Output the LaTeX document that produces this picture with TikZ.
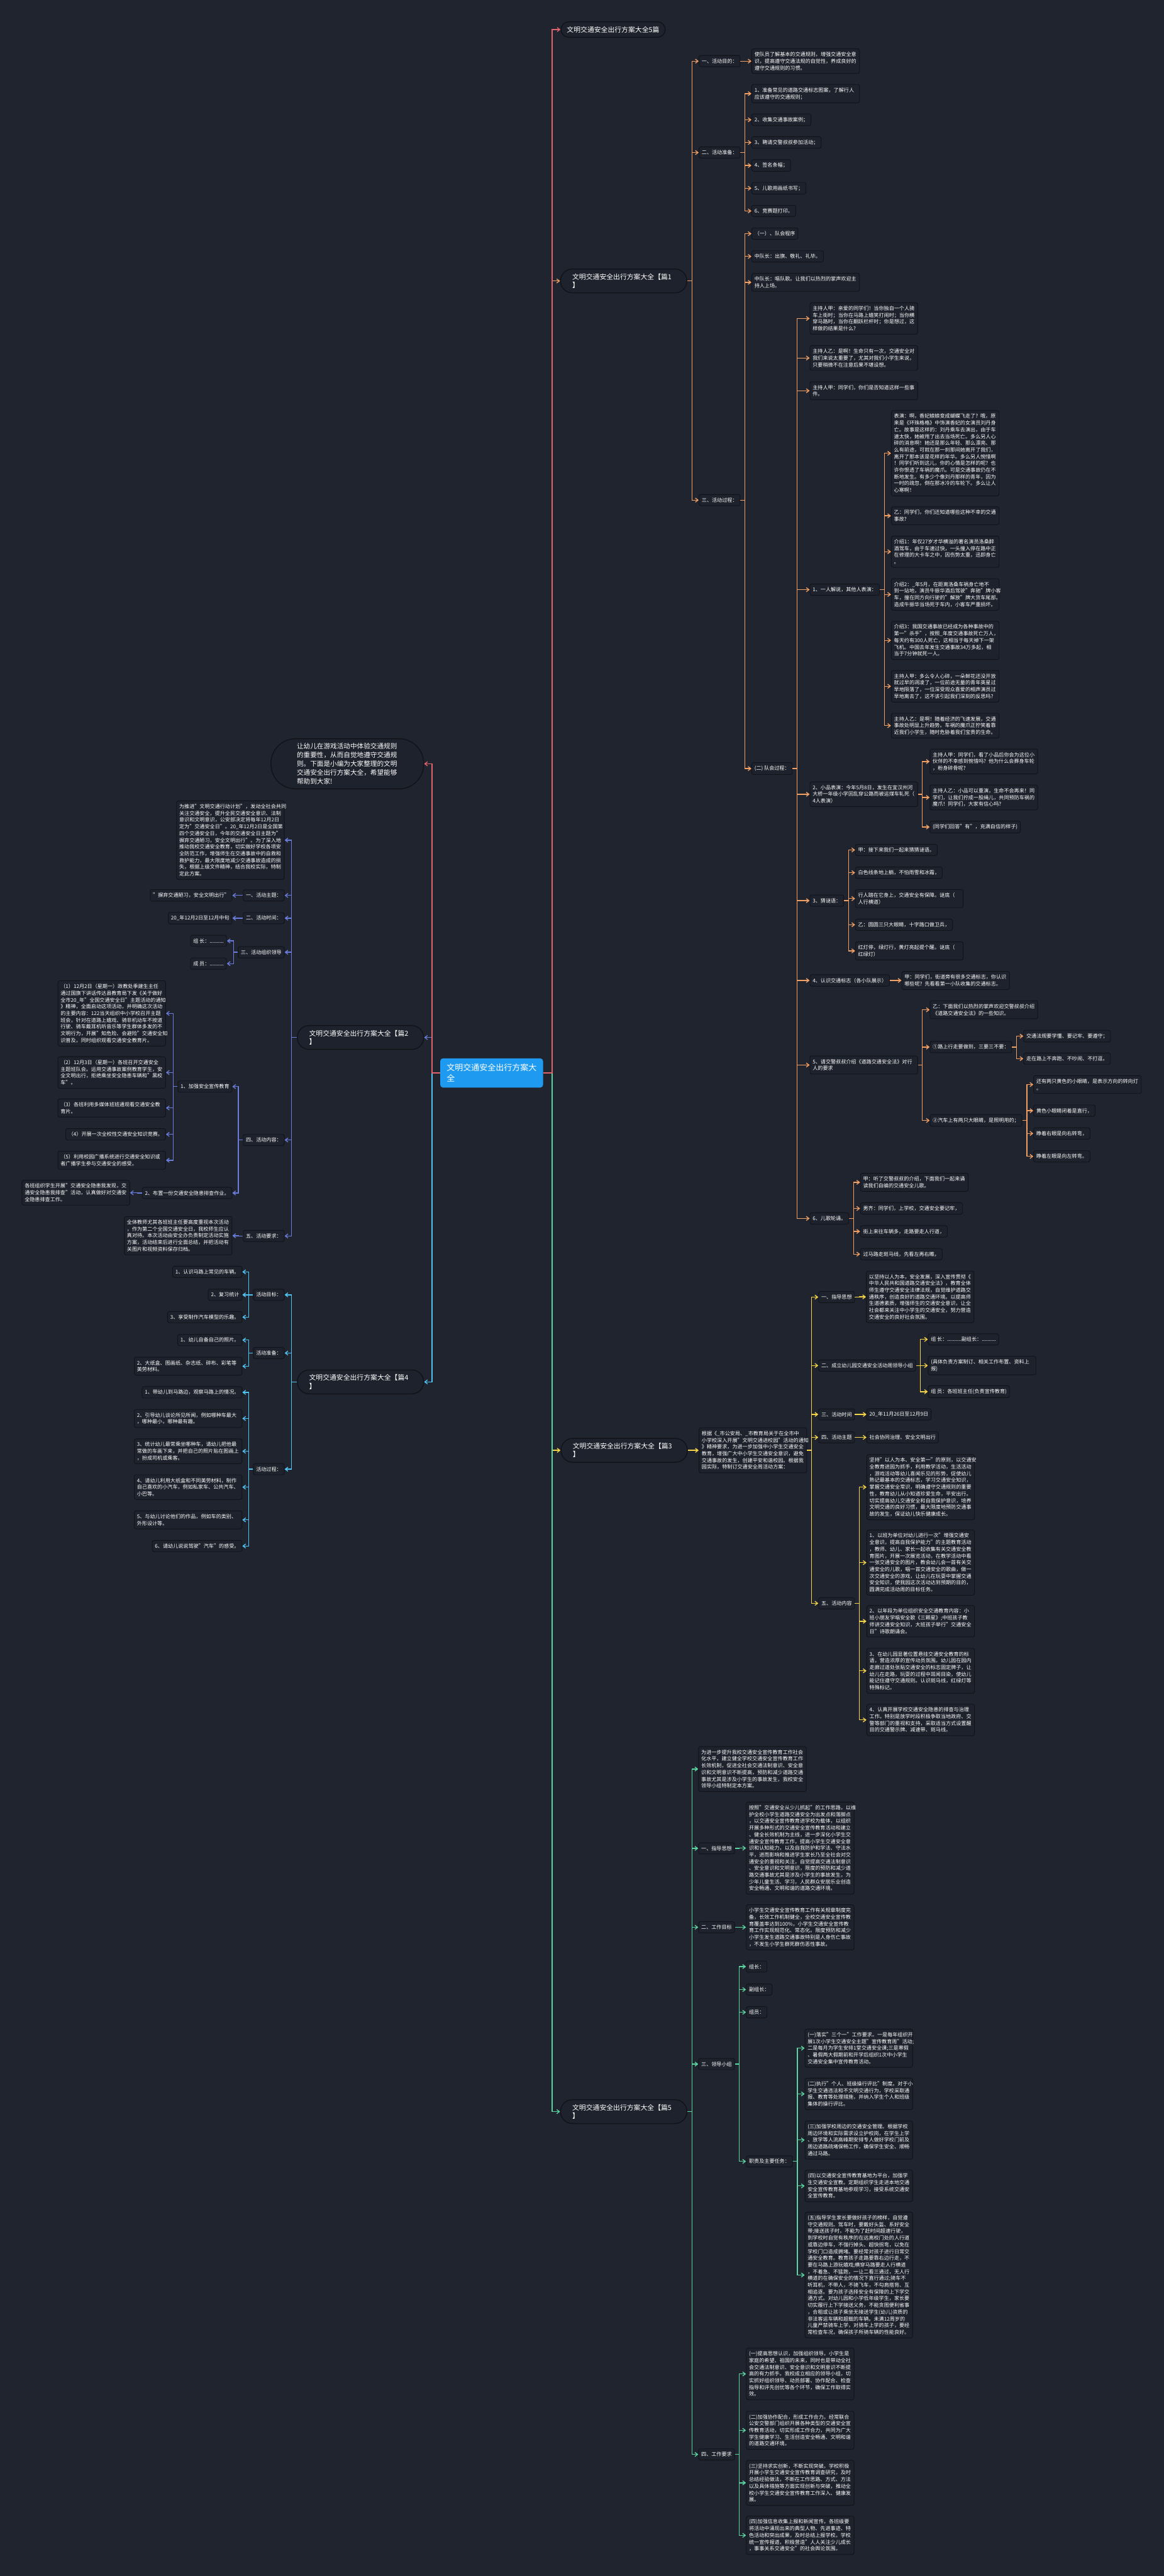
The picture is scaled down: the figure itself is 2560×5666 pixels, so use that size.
\documentclass[tikz,border=0pt]{standalone}
\usepackage{fontspec}
\setmainfont{Noto Sans CJK SC}
\usetikzlibrary{arrows.meta}
\setlength{\parindent}{0pt}
\definecolor{bg}{HTML}{20242F}
\definecolor{boxfill}{HTML}{1E222C}
\definecolor{boxline}{HTML}{111318}
\definecolor{cred}{HTML}{E4646E}
\definecolor{corange}{HTML}{F2A064}
\definecolor{cyellow}{HTML}{F5D547}
\definecolor{cblue}{HTML}{6A7DDC}
\definecolor{ccyan}{HTML}{50C4F2}
\definecolor{cgreen}{HTML}{5BD6A0}
\definecolor{cmain}{HTML}{1E9BF0}
\newcommand{\fs}{\fontsize{11.2pt}{14.8pt}\selectfont}
\newcommand{\fl}{\fontsize{15pt}{18.5pt}\selectfont}
\newcommand{\fm}{\fontsize{14.7pt}{19.4pt}\selectfont}
\newcommand{\fc}{\fontsize{18pt}{24pt}\selectfont}
\tikzset{
 nbox/.style={draw=boxline, fill=boxfill, rounded corners=4pt, line width=1.3pt, text=white, font=\fs, inner xsep=6pt, inner ysep=7.2pt, align=left},
 npara/.style={nbox, text width=225pt},
 npill/.style={draw=boxline, fill=boxfill, rounded corners=26pt, line width=2pt, text=white, font=\fl, inner xsep=26pt, inner ysep=10pt, align=left, text width=226pt},
 ttlpill/.style={draw=boxline, fill=boxfill, rounded corners=17pt, line width=2pt, text=white, font=\fl, inner xsep=13pt, inner ysep=10pt},
 sumpill/.style={draw=boxline, fill=boxfill, rounded corners=54pt, line width=2pt, text=white, font=\fm, inner xsep=57pt, inner ysep=9.5pt, align=left, text width=222pt},
 conn/.style={draw=#1, line width=1.8pt, -{Straight Barb[length=6pt,width=9pt]}},
}
\newcommand{\Rn}[4][nbox]{\node[#1,anchor=west] (#2) at #3 {#4};}
\newcommand{\Ln}[4][nbox]{\node[#1,anchor=east] (#2) at #3 {#4};}
\newcommand{\Rk}[4][10]{\draw[conn=#2] (#3.east) -- ++(#1,0) |- (#4.west);}
\newcommand{\Lk}[4][10]{\draw[conn=#2] (#3.west) -- ++(-#1,0) |- (#4.east);}
\begin{document}
\begin{tikzpicture}[x=1pt,y=-1pt]
\fill[bg] (0,0) rectangle (2560,5666);
\useasboundingbox (0,0) rectangle (2560,5666);
% center
\node[fill=cmain, rounded corners=6pt, text=white, font=\fc, align=left, inner xsep=14pt, inner ysep=12pt] (C) at (1081.5,2360) {文明交通安全出行方案大\\全};
% top-level right
\Rn[ttlpill]{T0}{(1233,65)}{文明交通安全出行方案大全5篇}
\Rn[npill]{P1}{(1232,618)}{文明交通安全出行方案大全【篇1\\】}
\Rn[npill]{P3}{(1233,3190)}{文明交通安全出行方案大全【篇3\\】}
\Rn[npill]{P5}{(1232,4644.5)}{文明交通安全出行方案大全【篇5\\】}
% top-level left
\Ln[sumpill]{S}{(933,1680)}{让幼儿在游戏活动中体验交通规则\\的重要性，从而自觉地遵守交通规\\则。下面是小编为大家整理的文明\\交通安全出行方案大全，希望能够\\帮助到大家!}
\Ln[npill]{P2}{(933,2282)}{文明交通安全出行方案大全【篇2\\】}
\Ln[npill]{P4}{(933,3039.5)}{文明交通安全出行方案大全【篇4\\】}
% ===== 篇1 =====
\Rn{A1}{(1537,134.5)}{一、活动目的：}
\Rn[npara]{A1c}{(1653,134.5)}{使队员了解基本的交通规则，增强交通安全意\\识，提高遵守交通法规的自觉性，养成良好的\\遵守交通规则的习惯。}
\Rn{A2}{(1537,335.5)}{二、活动准备：}
\Rn[npara]{A2a}{(1653,206)}{1、准备常见的道路交通标志图案，了解行人\\应该遵守的交通规则；}
\Rn{A2b}{(1653,263.5)}{2、收集交通事故案例；}
\Rn{A2c}{(1653,313.5)}{3、聘请交警叔叔参加活动；}
\Rn{A2d}{(1653,364)}{4、签名条幅；}
\Rn{A2e}{(1653,414)}{5、儿歌用画纸书写；}
\Rn{A2f}{(1653,464)}{6、竞赛题打印。}
\Rn{A3}{(1537,1100)}{三、活动过程：}
\Rn{B1}{(1653,514)}{（一）、队会程序}
\Rn{B2}{(1653,564)}{中队长：出旗、敬礼、礼毕。}
\Rn[npara]{B3}{(1653,621)}{中队长：唱队歌。让我们以热烈的掌声欢迎主\\持人上场。}
\Rn{B4}{(1653,1690.5)}{(二) 队会过程：}
\Rn[npara]{C1}{(1781,700.5)}{主持人甲：亲爱的同学们！当你独自一个人骑\\车上街时；当你在马路上嬉笑打闹时；当你横\\穿马路时，当你在翻跃栏杆时；你是想过，这\\样做的结果是什么?}
\Rn[npara]{C2}{(1781,787.5)}{主持人乙：是啊！生命只有一次，交通安全对\\我们来说太重要了，尤其对我们小学生来说，\\只要稍微不在注意后果不堪设想。}
\Rn[npara]{C3}{(1781,859.5)}{主持人甲：同学们，你们是否知道这样一些事\\件。}
\Rn{C4}{(1781,1297)}{1、一人解说，其他人表演：}
\Rn[npara]{D1}{(1960,997)}{表演：啊，香妃娘娘变成蝴蝶飞走了? 哦，原\\来是《环珠格格》中饰演香妃的女演员刘丹身\\亡。故事是这样的：刘丹乘车去演出，由于车\\速太快，她被甩了出去当场死亡。多么另人心\\碎的消息啊！她还是那么年轻、那么漂亮、那\\么有前途，可就在那一刹那间她离开了我们，\\离开了那本该是花样的年华。多么另人惋惜啊\\！同学们听到这儿，你的心情是怎样的呢? 也\\许你恨透了车祸的魔爪。可是交通事故仍在不\\断地发生。有多少个像刘丹那样的青年，因为\\一时的疏忽，倒在那冰冷的车轮下。多么让人\\心寒啊！}
\Rn[npara]{D2}{(1960,1134.5)}{乙：同学们，你们还知道哪些这种不幸的交通\\事故?}
\Rn[npara]{D3}{(1960,1213.5)}{介绍1：年仅27岁才华横溢的著名演员洛桑醉\\酒驾车，由于车速过快，一头撞入停在路中正\\在修理的大卡车之中，因伤势太重，迅即身亡\\。}
\Rn[npara]{D4}{(1960,1307.5)}{介绍2：\_年5月，在距离洛桑车祸身亡地不\\到一站地，演员牛振华酒后驾驶"奔驰"牌小客\\车，撞在同方向行驶的"解放"牌大货车尾部。\\造成牛振华当场死于车内，小客车严重损坏。}
\Rn[npara]{D5}{(1960,1408.5)}{介绍3：我国交通事故已经成为各种事故中的\\第一"杀手"，按照\_年度交通事故死亡万人，\\每天约有300人死亡，这相当于每天掉下一架\\飞机。中国去年发生交通事故34万多起，相\\当于7分钟就死一人。}
\Rn[npara]{D6}{(1960,1509.5)}{主持人甲：多么令人心碎，一朵鲜花还没开放\\就过早的凋凌了，一位前途无量的青年英星过\\早地陨落了，一位深受观众喜爱的相声演员过\\早地离去了，这不该引起我们深刻的反思吗?}
\Rn[npara]{D7}{(1960,1596)}{主持人乙：是啊！随着经济的飞速发展，交通\\事故处明显上升趋势。车祸的魔爪正狞笑着靠\\近我们小学生，随时危胁着我们宝贵的生命。}
\Rn[npara]{C5}{(1781,1747)}{2、小品表演：今年5月8日，发生在宜汉州河\\大桥一年级小学因乱穿公路而被运煤车轧死（\\4人表演）}
\Rn[npara]{E1}{(2045,1675)}{主持人甲：同学们，看了小品后你会为这位小\\伙伴的不幸感到惋惜吗? 他为什么会葬身车轮\\，粉身碎骨呢?}
\Rn[npara]{E2}{(2045,1754)}{主持人乙：小品可以重演，生命不会再来！同\\学们，让我们拧成一股绳儿，共同预防车祸的\\魔爪！同学们，大家有信心吗?}
\Rn{E3}{(2045,1819)}{(同学们回答"有"，充满自信的样子)}
\Rn{C6}{(1781,1981)}{3、猜谜语：}
\Rn{F1}{(1881,1869.5)}{甲：接下来我们一起来猜猜谜语。}
\Rn{F2}{(1881,1919.5)}{白色线条地上躺，不怕雨雪和冰霜，}
\Rn[npara]{F3}{(1881,1976.5)}{行人踏在它身上，交通安全有保障。谜底（\\人行横道）}
\Rn{F4}{(1881,2034)}{乙：圆圆三只大眼睛，十字路口做卫兵，}
\Rn[npara]{F5}{(1881,2091.5)}{红灯停，绿灯行，黄灯亮起提个醒。谜底（\\红绿灯）}
\Rn{C7}{(1781,2156.5)}{4、认识交通标志（各小队展示）}
\Rn[npara]{G1}{(1983,2156.5)}{甲：同学们，街道旁有很多交通标志，你认识\\哪些呢? 先看看第一小队收集的交通标志。}
\Rn[npara]{C8}{(1781,2342.5)}{5、请交警叔叔介绍《道路交通安全法》对行\\人的要求}
\Rn[npara]{H1}{(2045,2221)}{乙：下面我们以热烈的掌声欢迎交警叔叔介绍\\《道路交通安全法》的一些知识。}
\Rn{H2}{(2045,2303)}{①路上行走要做到，三要三不要：}
\Rn{H2a}{(2251,2279)}{交通法规要学懂、要记牢、要遵守；}
\Rn{H2b}{(2251,2328.5)}{走在路上不奔跑、不吵闹、不打逗。}
\Rn{H3}{(2045,2464.5)}{②汽车上有两只大眼睛，是照明用的；}
\Rn[npara]{H3a}{(2273,2385.5)}{还有两只黄色的小眼睛，是表示方向的转向灯\\。}
\Rn{H3b}{(2273,2443)}{黄色小眼睛闭着是直行，}
\Rn{H3c}{(2273,2493)}{睁着右眼是向右转弯，}
\Rn{H3d}{(2273,2543.5)}{睁着左眼是向左转弯。}
\Rn{C9}{(1781,2680)}{6、儿歌轮诵。}
\Rn[npara]{I1}{(1892,2600.5)}{甲：听了交警叔叔的介绍，下面我们一起来诵\\读我们自编的交通安全儿歌。}
\Rn{I2}{(1892,2658)}{男齐：同学们，上学校，交通安全要记牢，}
\Rn{I3}{(1892,2708.5)}{街上来往车辆多，走路要走人行道，}
\Rn{I4}{(1892,2758.5)}{过马路走斑马线，先看左再右瞧，}
% ===== 篇3 =====
\Rn[npara]{Y0}{(1537,3190)}{根据《\_市公安局、\_市教育局关于在全市中\\小学校深入开展"文明交通进校园"活动的通知\\》精神要求，为进一步加强中小学生交通安全\\教育，增强广大中小学生交通安全意识，避免\\交通事故的发生，创建平安和谐校园。根据我\\园实际，特制订交通安全周活动方案：}
\Rn{Y1}{(1800,2853)}{一、指导思想}
\Rn[npara]{Y1c}{(1905,2852.5)}{以坚持以人为本，安全发展，深入宣传贯彻《\\中华人民共和国道路交通安全法》，教育全体\\师生遵守交通安全法律法规，自觉维护道路交\\通秩序，创造良好的道路交通环境。以提高师\\生道德素质，增强师生的交通安全意识，让全\\社会都来关注中小学生的交通安全，努力营造\\交通安全的良好社会氛围。}
\Rn{Y2}{(1800,3003.5)}{二、成立幼儿园交通安全活动周领导小组}
\Rn{Y2a}{(2041,2946)}{组 长：..........副组长：..........}
\Rn[npara]{Y2b}{(2041,3003.5)}{(具体负责方案制订、相关工作布置、资料上\\报)}
\Rn{Y2c}{(2041,3061)}{组 员：各班班主任(负责宣传教育)}
\Rn{Y3}{(1800,3111)}{三、活动时间}
\Rn{Y3c}{(1906,3111)}{20\_年11月26日至12月9日}
\Rn{Y4}{(1800,3161.5)}{四、活动主题}
\Rn{Y4c}{(1906,3161.5)}{社会协同治理、安全文明出行}
\Rn{Y5}{(1800,3526.5)}{五、活动内容}
\Rn[npara]{Y5a}{(1906,3271)}{坚持"以人为本、安全第一"的原则，以交通安\\全教育进园为抓手，利用教学活动，生活活动\\，游戏活动等幼儿喜闻乐见的形势，促使幼儿\\熟记最基本的交通标志，学习交通安全知识，\\掌握交通安全常识，明确遵守交通规则的重要\\性，教育幼儿从小知道珍爱生命，平安出行。\\切实提高幼儿交通安全和自我保护意识，培养\\文明交通的良好习惯，最大限度地预防交通事\\故的发生，保证幼儿快乐健康成长。}
\Rn[npara]{Y5b}{(1906,3437)}{1、以班为单位对幼儿进行一次"增强交通安\\全意识，提高自我保护能力"的主题教育活动\\，教师、幼儿、家长一起收集有关交通安全教\\育图片，开展一次展览活动，在教学活动中看\\一张交通安全的图片，教会幼儿会一首有关交\\通安全的儿歌，唱一首交通安全的歌曲，做一\\次交通安全的游戏，让幼儿在玩耍中掌握交通\\安全知识，使我园这次活动达到预期的目的，\\圆满完成活动周的目标任务。}
\Rn[npara]{Y5c}{(1906,3566)}{2、以年段为单位组织安全交通教育内容：小\\班小朋友学唱安全歌《三颗星》;中班孩子教\\师讲交通安全知识，大班孩子举行"交通安全\\日"诗歌朗诵会。}
\Rn[npara]{Y5d}{(1906,3675)}{3、在幼儿园显著位置悬挂交通安全教育的标\\语，营造浓厚的宣传动员氛围。幼儿园在园内\\走廊过道处张贴交通安全的标志固定牌子，让\\幼儿在走路，玩耍的过程中耳闻目染，使幼儿\\能记住遵守交通规则。认识斑马线，红绿灯等\\特殊标记。}
\Rn[npara]{Y5e}{(1906,3783)}{4、认真开展学校交通安全隐患的排查与治理\\工作。特别是放学时段积极争取当地政府、交\\警等部门的重视和支持，采取适当方式设置醒\\目的交通警示牌、减速带、斑马线。}
% ===== 篇5 =====
\Rn[npara]{G0}{(1536,3891)}{为进一步提升我校交通安全宣传教育工作社会\\化水平，建立健全学校交通安全宣传教育工作\\长效机制，促进全社会交通法制意识、安全意\\识和文明意识不断提高，预防和减少道路交通\\事故尤其是涉及小学生的事故发生，我校安全\\领导小组特制定本方案。}
\Rn{GA}{(1536,4065.5)}{一、指导思想}
\Rn[npara]{GAc}{(1641,4065)}{按照"交通安全从少儿抓起"的工作思路，以维\\护全校小学生道路交通安全为出发点和落脚点\\，以交通安全宣传教育进学校为载体，以组织\\开展多种形式的交通安全宣传教育活动和建立\\、健全长效机制为主线，进一步深化小学生交\\通安全宣传教育工作，提高小学生交通安全意\\识和认知能力，以及自我防护和学法、守法水\\平，进而影响和推进学生家长乃至全社会对交\\通安全的重视和关注，自觉提高交通法制意识\\、安全意识和文明意识，限度的预防和减少道\\路交通事故尤其是涉及小学生的事故发生，为\\少年儿童生活、学习，人民群众安居乐业创造\\安全畅通、文明和谐的道路交通环境。}
\Rn{GB}{(1536,4239)}{二、工作目标}
\Rn[npara]{GBc}{(1641,4239)}{小学生交通安全宣传教育工作有关规章制度完\\备，长效工作机制健全，全校交通安全宣传教\\育覆盖率达到100\%，小学生交通安全宣传教\\育工作实现规范化、常态化。限度预防和减少\\小学生发生道路交通事故特别是人身伤亡事故\\，不发生小学生群死群伤恶性事故。}
\Rn{GC}{(1536,4540)}{三、领导小组}
\Rn{GCa}{(1641,4325.5)}{组长：}
\Rn{GCb}{(1641,4376)}{副组长：}
\Rn{GCc}{(1641,4426)}{组员：}
\Rn{GCd}{(1641,4754)}{职责及主要任务：}
\Rn[npara]{GD1}{(1770,4505)}{(一)落实"三个一"工作要求。一是每年组织开\\展1次小学生交通安全主题"宣传教育周"活动;\\二是每月为学生安排1堂交通安全课;三是寒假\\、暑假两大假期前和开学后组织1次中小学生\\交通安全集中宣传教育活动。}
\Rn[npara]{GD2}{(1770,4605.5)}{(二)执行"个人、班级操行评比"制度。对于小\\学生交通违法和不文明交通行为，学校采取通\\报、教育等处理措施，并纳入学生个人和班级\\集体的操行评比。}
\Rn[npara]{GD3}{(1770,4707)}{(三)加强学校周边的交通安全管理。根据学校\\周边环境和实际需求设立护校岗，在学生上学\\、放学等人流高峰期安排专人做好学校门前及\\周边道路疏堵保畅工作，确保学生安全、顺畅\\通过马路。}
\Rn[npara]{GD4}{(1770,4808)}{(四)以交通安全宣传教育基地为平台，加强学\\生交通安全宣教。定期组织学生走进本地交通\\安全宣传教育基地参观学习，接受系统交通安\\全宣传教育。}
\Rn[npara]{GD5}{(1770,5004)}{(五)指导学生家长要做好孩子的榜样，自觉遵\\守交通规则。驾车时，要戴好头盔、系好安全\\带;接送孩子时，不能为了赶时间超速行驶，\\到学校时自觉有秩序的在远离校门处的人行道\\或靠边停车，不强行掉头、超快拐弯，以免在\\学校门口造成拥堵。要经常对孩子进行日常交\\通安全教育。教育孩子走路要靠右边行走，不\\要在马路上游玩嬉戏;横穿马路要走人行横道\\，不着急、不猛跑，一让二看三通过，无人行\\横道的在确保安全的情况下直行通过;骑车不\\听耳机，不带人，不骑飞车，不勾肩搭背、互\\相追逐。要为孩子选择安全有保障的上下学交\\通方式。对幼儿园和小学低年级学生，家长要\\切实履行上下学接送义务，不能贪图便利省事\\，合租或让孩子乘坐无接送学生(幼儿)资质的\\非法客运车辆和超载的车辆。未满12周岁的\\儿童严禁骑车上学，对骑车上学的孩子，要经\\常检查车况，确保孩子所骑车辆的性能良好。}
\Rn{GE}{(1536,5398.5)}{四、工作要求}
\Rn[npara]{GE1}{(1641,5221.5)}{(一)提高思想认识，加强组织领导。小学生是\\家庭的希望、祖国的未来，同时也是带动全社\\会交通法制意识、安全意识和文明意识不断提\\高的有力抓手。我校成立相应的领导小组，切\\实抓好组织领导、动员部署、协作配合、检查\\指导和评先创优等各个环节，确保工作取得实\\效。}
\Rn[npara]{GE2}{(1641,5345.5)}{(二)加强协作配合，形成工作合力。经常联合\\公安交警部门组织开展各种类型的交通安全宣\\传教育活动，切实形成工作合力，共同为广大\\学生健康学习、生活创造安全畅通、文明和谐\\的道路交通环境。}
\Rn[npara]{GE3}{(1641,5461)}{(三)坚持求实创新，不断实现突破。学校积极\\开展小学生交通安全宣传教育调查研究，及时\\总结经验做法，不断在工作思路、方式、方法\\以及具体措施等方面实现创新与突破，推动全\\校小学生交通安全宣传教育工作深入、健康发\\展。}
\Rn[npara]{GE4}{(1641,5576.5)}{(四)加强信息收集上报和新闻宣传。各班级要\\将活动中涌现出来的典型人物、先进事迹、特\\色活动和突出成果，及时总结上报学校。学校\\统一宣传报道，积极营造"人人关注少儿成长\\，事事关系交通安全"的社会舆论氛围。}
% ===== 篇2 =====
\Ln[npara]{L0}{(626,1848)}{为推进"文明交通行动计划"，发动全社会共同\\关注交通安全，提升全民交通安全意识、法制\\意识和文明意识，公安部决定将每年12月2日\\定为"交通安全日"。20\_年12月2日是全国第\\四个交通安全日，今年的交通安全日主题为"\\摒弃交通陋习，安全文明出行"。为了深入地\\推动我校交通安全教育，切实做好学校各项安\\全防范工作，增强师生在交通事故中的自救和\\救护能力，最大限度地减少交通事故造成的损\\失，根据上级文件精神，结合我校实际，特制\\定此方案。}
\Ln{L1}{(626,1969.5)}{一、活动主题：}
\Ln{L1c}{(511,1969.5)}{"摒弃交通陋习，安全文明出行"}
\Ln{L2}{(626,2019.5)}{二、活动时间：}
\Ln{L2c}{(511,2019.5)}{20\_年12月2日至12月中旬}
\Ln{L3}{(626,2094.5)}{三、活动组织领导}
\Ln{L3a}{(499,2069.5)}{组 长：..........}
\Ln{L3b}{(499,2119.5)}{成 员：..........}
\Ln{L4}{(626,2507.5)}{四、活动内容：}
\Ln{L4a}{(511,2390)}{1、加强安全宣传教育}
\Ln[npara]{K1}{(365,2229)}{（1）12月2日（星期一）政教处季建生主任\\通过国旗下讲话传达县教育局下发《关于做好\\全市20\_年"全国交通安全日"主题活动的通知\\》精神，全面启动这项活动，并明确这次活动\\的主要内容：122当天组织中小学校召开主题\\班会，针对在道路上嬉戏、骑非机动车不按道\\行驶、骑车戴耳机听音乐等学生群体多发的不\\文明行为，开展"知危险、会避险"交通安全知\\识普及，同时组织观看交通安全教育片。}
\Ln[npara]{K2}{(365,2359)}{（2）12月3日（星期一）各班召开交通安全\\主题班队会。运用交通事故案例教育学生，安\\全文明出行，拒绝乘坐安全隐患车辆和"黑校\\车"。}
\Ln[npara]{K3}{(365,2437)}{（3）各班利用多媒体班班通观看交通安全教\\育片。}
\Ln{K4}{(365,2495)}{（4）开展一次全校性交通安全知识竞赛。}
\Ln[npara]{K5}{(365,2552)}{（5）利用校园广播系统进行交通安全知识或\\者广播学生参与交通安全的感受。}
\Ln{L4b}{(511,2624)}{2、布置一份交通安全隐患排查作业。}
\Ln[npara]{L4bc}{(286,2623.5)}{各班组织学生开展"交通安全隐患我发现，交\\通安全隐患我排查"活动，认真做好对交通安\\全隐患排查工作。}
\Ln{L5}{(626,2718.5)}{五、活动要求：}
\Ln[npara]{L5c}{(511,2718)}{全体教师尤其各班班主任要高度重视本次活动\\，作为第二个全国交通安全日，我校师生应认\\真对待。本次活动由安全办负责制定活动实施\\方案，活动结束后进行全面总结，并把活动有\\关图片和视频资料保存归档。}
% ===== 篇4 =====
\Ln{M1}{(626,2848)}{活动目标：}
\Ln{M1a}{(533,2797.5)}{1、认识马路上常见的车辆。}
\Ln{M1b}{(533,2848)}{2、复习统计}
\Ln{M1c}{(533,2897)}{3、享受制作汽车模型的乐趣。}
\Ln{M2}{(626,2976)}{活动准备：}
\Ln{M2a}{(533,2947.5)}{1、幼儿自备自己的照片。}
\Ln[npara]{M2b}{(533,3005)}{2、大纸盒、图画纸、杂志纸、碎布、彩笔等\\美劳材料。}
\Ln{M3}{(626,3231.5)}{活动过程：}
\Ln{M3a}{(533,3062.5)}{1、带幼儿到马路边，观察马路上的情况。}
\Ln[npara]{M3b}{(533,3120)}{2、引导幼儿谈论所见所闻，例如哪种车最大\\，哪种最小，哪种最有趣。}
\Ln[npara]{M3c}{(533,3192)}{3、统计幼儿最常乘坐哪种车，请幼儿把他最\\常做的车画下来，并把自己的照片贴在图画上\\，扮成司机或乘客。}
\Ln[npara]{M3d}{(533,3271)}{4、请幼儿利用大纸盒和不同美劳材料，制作\\自己喜欢的小汽车，例如私家车、公共汽车、\\小巴等。}
\Ln[npara]{M3e}{(533,3343)}{5、与幼儿讨论他们的作品，例如车的类别、\\外形设计等。}
\Ln{M3f}{(533,3400.5)}{6、请幼儿说说驾驶"汽车"的感受。}
% ===== connectors =====
\Rk[20]{corange}{C}{P1}
\Rk[20]{cyellow}{C}{P3}
\Rk[20]{cgreen}{C}{P5}
\Rk[20]{cred}{C}{T0}
\Lk[18]{cblue}{C}{P2}
\Lk[18]{ccyan}{C}{P4}
\Lk[18]{cred}{C}{S}
% 篇1
\foreach \nn in {A1,A2,A3} {\Rk{corange}{P1}{\nn}}
\Rk{corange}{A1}{A1c}
\foreach \nn in {A2a,A2b,A2c,A2d,A2e,A2f} {\Rk{corange}{A2}{\nn}}
\foreach \nn in {B1,B2,B3,B4} {\Rk{corange}{A3}{\nn}}
\foreach \nn in {C1,C2,C3,C4,C5,C6,C7,C8,C9} {\Rk{corange}{B4}{\nn}}
\foreach \nn in {D1,D2,D3,D4,D5,D6,D7} {\Rk[11]{corange}{C4}{\nn}}
\foreach \nn in {E1,E2,E3} {\Rk[9]{corange}{C5}{\nn}}
\foreach \nn in {F1,F2,F3,F4,F5} {\Rk{corange}{C6}{\nn}}
\Rk{corange}{C7}{G1}
\foreach \nn in {H1,H2,H3} {\Rk[9]{corange}{C8}{\nn}}
\foreach \nn in {H2a,H2b} {\Rk{corange}{H2}{\nn}}
\foreach \nn in {H3a,H3b,H3c,H3d} {\Rk{corange}{H3}{\nn}}
\foreach \nn in {I1,I2,I3,I4} {\Rk{corange}{C9}{\nn}}
% 篇3
\Rk{cyellow}{P3}{Y0}
\foreach \nn in {Y1,Y2,Y3,Y4,Y5} {\Rk{cyellow}{Y0}{\nn}}
\Rk{cyellow}{Y1}{Y1c}
\foreach \nn in {Y2a,Y2b,Y2c} {\Rk{cyellow}{Y2}{\nn}}
\Rk{cyellow}{Y3}{Y3c}
\Rk{cyellow}{Y4}{Y4c}
\foreach \nn in {Y5a,Y5b,Y5c,Y5d,Y5e} {\Rk{cyellow}{Y5}{\nn}}
% 篇5
\foreach \nn in {G0,GA,GB,GC,GE} {\Rk{cgreen}{P5}{\nn}}
\Rk{cgreen}{GA}{GAc}
\Rk{cgreen}{GB}{GBc}
\foreach \nn in {GCa,GCb,GCc,GCd} {\Rk{cgreen}{GC}{\nn}}
\foreach \nn in {GD1,GD2,GD3,GD4,GD5} {\Rk{cgreen}{GCd}{\nn}}
\foreach \nn in {GE1,GE2,GE3,GE4} {\Rk{cgreen}{GE}{\nn}}
% 篇2
\foreach \nn in {L0,L1,L2,L3,L4,L5} {\Lk[12]{cblue}{P2}{\nn}}
\Lk{cblue}{L1}{L1c}
\Lk{cblue}{L2}{L2c}
\foreach \nn in {L3a,L3b} {\Lk[9]{cblue}{L3}{\nn}}
\foreach \nn in {L4a,L4b} {\Lk{cblue}{L4}{\nn}}
\foreach \nn in {K1,K2,K3,K4,K5} {\Lk{cblue}{L4a}{\nn}}
\Lk{cblue}{L4b}{L4bc}
\Lk{cblue}{L5}{L5c}
% 篇4
\foreach \nn in {M1,M2,M3} {\Lk[12]{ccyan}{P4}{\nn}}
\foreach \nn in {M1a,M1b,M1c} {\Lk{ccyan}{M1}{\nn}}
\foreach \nn in {M2a,M2b} {\Lk{ccyan}{M2}{\nn}}
\foreach \nn in {M3a,M3b,M3c,M3d,M3e,M3f} {\Lk{ccyan}{M3}{\nn}}
\end{tikzpicture}
\end{document}
